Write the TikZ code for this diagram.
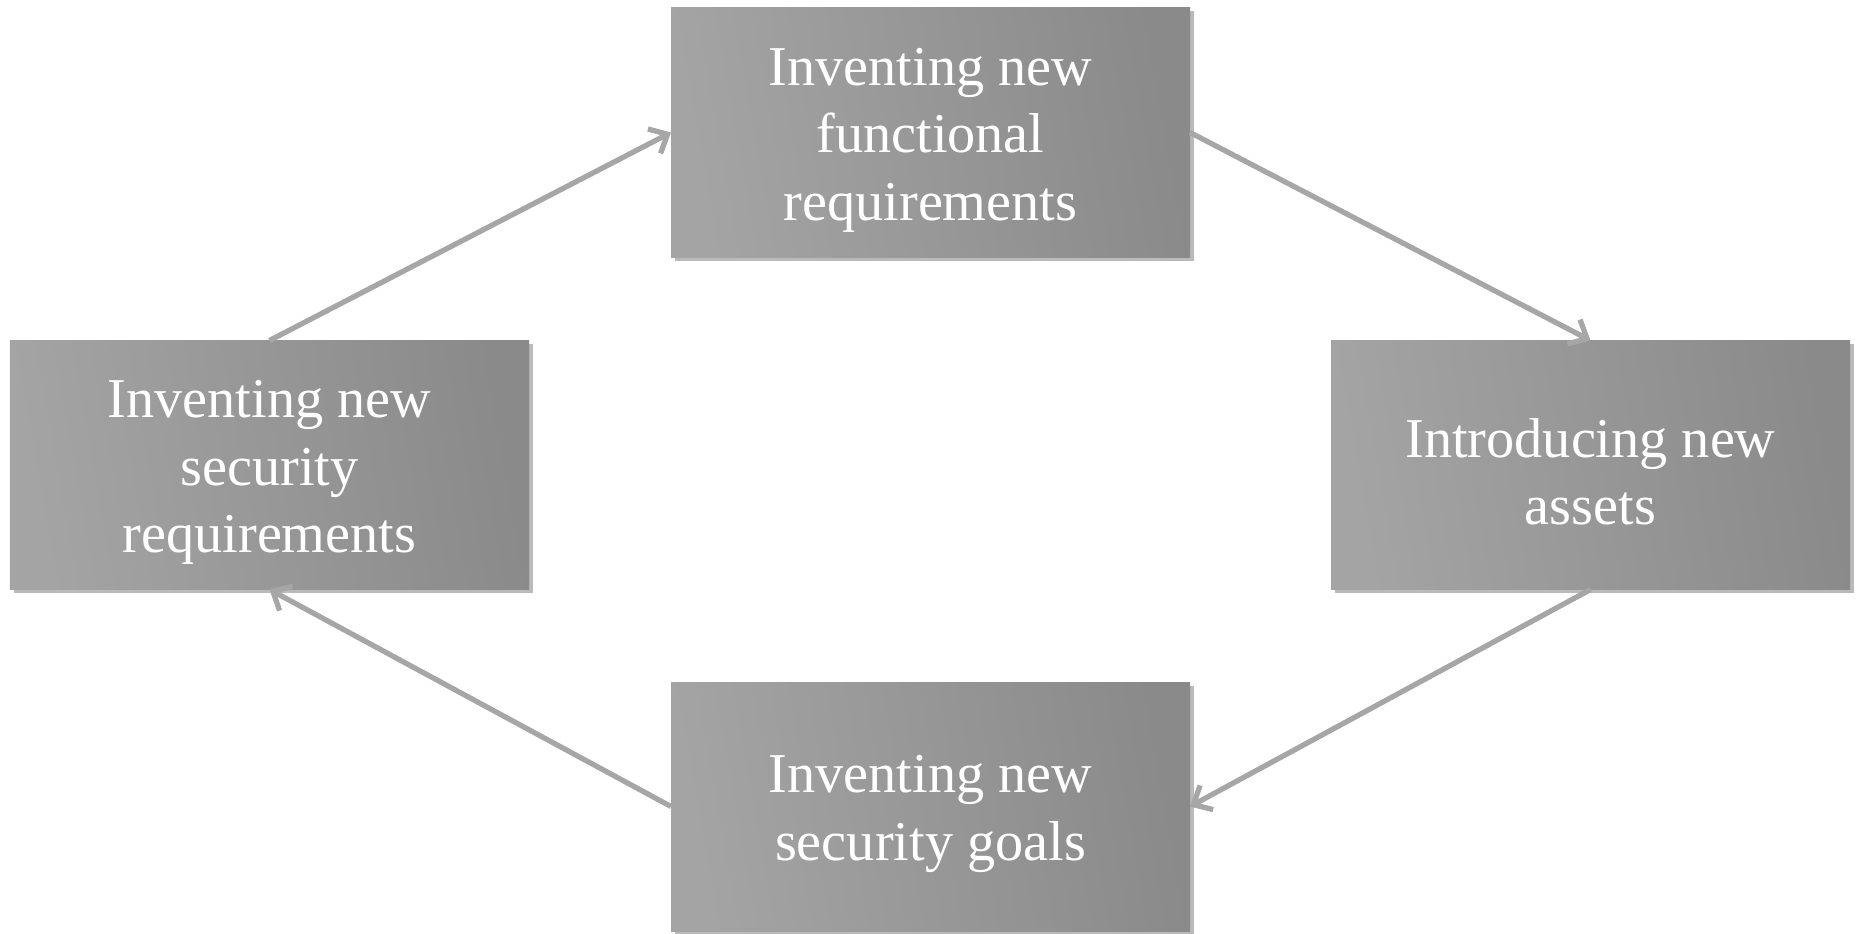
\documentclass[tikz,border=0pt]{standalone}
\usepackage{fontspec}
\setmainfont{Liberation Serif}
\usetikzlibrary{arrows.meta,shadows}
\definecolor{boxlight}{HTML}{A4A4A4}
\definecolor{boxdark}{HTML}{8A8A8A}
\definecolor{linkgray}{HTML}{A6A6A6}
\newcommand{\topgap}{\rule{0pt}{1.05cm}}
\tikzset{
  stepbox/.style={rectangle, minimum width=10.38cm, minimum height=4.98cm,
    inner sep=0pt, outer sep=0pt, left color=boxlight, right color=boxdark,
    shading angle=100, text=white, align=center,
    font=\fontsize{32}{38.5}\selectfont,
    drop shadow={shadow xshift=0.07cm, shadow yshift=-0.07cm, opacity=0.45, fill=black!60}}
}
\begin{document}
\begin{tikzpicture}
      \useasboundingbox (0,0) rectangle (37.2,-18.68);
      \path
        (18.61,-2.65) node[stepbox] (func){\topgap Inventing new\\functional\\requirements}
        (31.81,-9.30) node[stepbox] (assets){\topgap Introducing new\\assets}
        (18.61,-16.13) node[stepbox] (goals){\topgap Inventing new\\security goals}
        (5.39,-9.30) node[stepbox] (secreq){\topgap Inventing new\\security\\requirements};
      \begin{scope}[-{Straight Barb[length=0.3cm,width=0.55cm]}, linkgray, line width=3pt]
        \draw (secreq.north) to (func.west);
        \draw (func.east) to (assets.north);
        \draw (assets.south) to (goals.east);
        \draw (goals.west) to (secreq.south);
      \end{scope}
    \end{tikzpicture}
\end{document}
